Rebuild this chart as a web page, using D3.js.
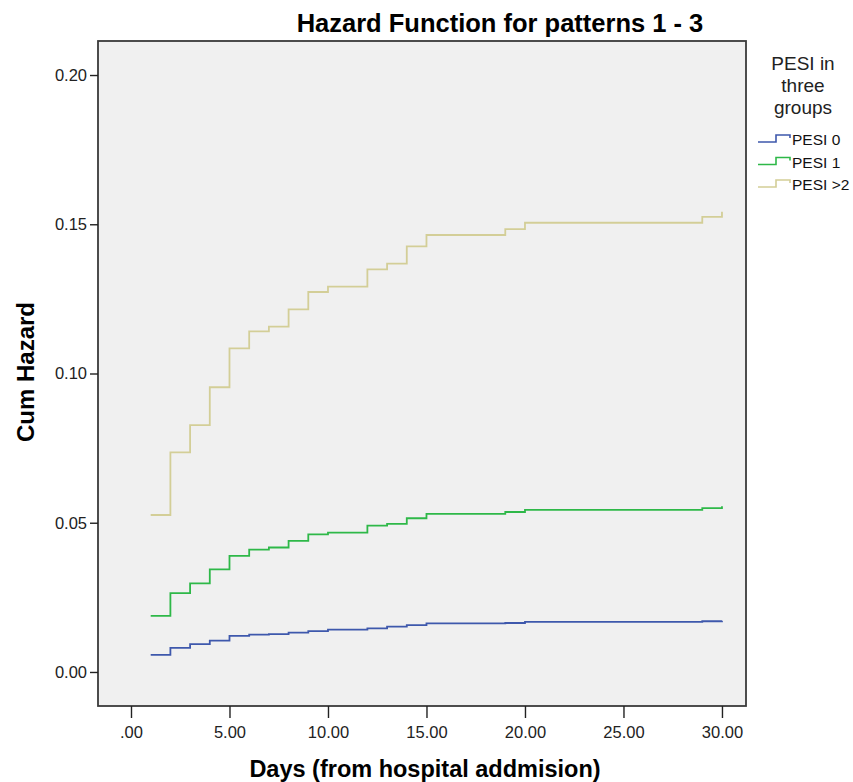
<!DOCTYPE html>
<html lang="en">
    <head>
        <meta charset="utf-8">
        <title>Hazard Function</title>
        <style>
            body { margin: 0; background: white; }
            svg { display: block; font-family: "Liberation Sans", Arial, sans-serif; }
            .tick text { font-size: 16.5px; fill: #222; }
        </style>
    </head>
    <body>
        <svg width="853" height="782"></svg>
        <script src="https://d3js.org/d3.v7.min.js"></script>
        <script>
            // event times (days) and cumulative hazard
            var days = [1, 2, 3, 4, 5, 6, 7, 8, 9, 10, 12, 13, 14, 15, 19, 20, 29, 30];
            var pesi0 = [0.0057, 0.0081, 0.0093, 0.0105, 0.0121, 0.0125, 0.0127, 0.0132, 0.0137, 0.0142, 0.0146, 0.0152, 0.0157, 0.0163, 0.0164, 0.0168, 0.0170, 0.0172];
            var pesi1 = [0.0188, 0.0264, 0.0297, 0.0344, 0.0389, 0.0410, 0.0417, 0.0439, 0.0461, 0.0467, 0.0490, 0.0496, 0.0515, 0.0530, 0.0536, 0.0543, 0.0549, 0.0555];
            var pesi2 = [0.0526, 0.0736, 0.0827, 0.0954, 0.1084, 0.1141, 0.1157, 0.1215, 0.1273, 0.1291, 0.1349, 0.1368, 0.1426, 0.1464, 0.1484, 0.1505, 0.1525, 0.1542];

            var seriesNames = ["PESI 0", "PESI 1", "PESI >2"];
            var seriesColors = ["#3e58ac", "#2eb848", "#d3ce97"];
            var xTicks = [0, 5, 10, 15, 20, 25, 30];
            var xTickLabels = [".00", "5.00", "10.00", "15.00", "20.00", "25.00", "30.00"];
            var yTicks = [0, 0.05, 0.10, 0.15, 0.20];
            var yTickLabels = ["0.00", "0.05", "0.10", "0.15", "0.20"];

            var svg = d3.select("svg");
            var frame = {left: 98, right: 746, top: 41, bottom: 706};

            var x = d3.scaleLinear().domain([-1.675, 31.22]).range([frame.left, frame.right]);
            var y = d3.scaleLinear().domain([-0.0114, 0.2114]).range([frame.bottom, frame.top]);

            svg.append("rect")
                .attr("x", frame.left)
                .attr("y", frame.top)
                .attr("width", frame.right - frame.left)
                .attr("height", frame.bottom - frame.top)
                .style("fill", "#f0f0f0")
                .style("stroke", "#3a3a3a")
                .style("stroke-width", 1.8);

            var xAxis = svg.append("g")
                .attr("transform", "translate(0," + frame.bottom + ")")
                .call(d3.axisBottom(x).tickValues(xTicks).tickSize(12).tickPadding(8)
                    .tickFormat(function(d, i) { return xTickLabels[i]; }));
            var yAxis = svg.append("g")
                .attr("transform", "translate(" + frame.left + ",0)")
                .call(d3.axisLeft(y).tickValues(yTicks).tickSize(8).tickPadding(3)
                    .tickFormat(function(d, i) { return yTickLabels[i]; }));
            svg.selectAll(".domain").remove();
            svg.selectAll(".tick line").style("stroke", "#222").style("stroke-width", 1.4);

            var line = d3.line()
                .x(function(d) { return x(d[0]); })
                .y(function(d) { return y(d[1]); })
                .curve(d3.curveStepAfter);

            [pesi0, pesi1, pesi2].forEach(function(vals, i) {
                svg.append("path")
                    .datum(days.map(function(d, j) { return [d, vals[j]]; }))
                    .attr("d", line)
                    .style("fill", "none")
                    .style("stroke", seriesColors[i])
                    .style("stroke-width", 1.8);
            });

            svg.append("text")
                .attr("x", 500).attr("y", 32)
                .attr("text-anchor", "middle")
                .style("font-size", "25.5px").style("font-weight", "bold")
                .text("Hazard Function for patterns 1 - 3");

            svg.append("text")
                .attr("x", 425).attr("y", 777)
                .attr("text-anchor", "middle")
                .style("font-size", "23.5px").style("font-weight", "bold")
                .text("Days (from hospital addmision)");

            svg.append("text")
                .attr("transform", "translate(34,372)rotate(-90)")
                .attr("text-anchor", "middle")
                .style("font-size", "24px").style("font-weight", "bold")
                .text("Cum Hazard");

            // legend
            var legend = svg.append("g");
            ["PESI in", "three", "groups"].forEach(function(t, i) {
                legend.append("text")
                    .attr("x", 803).attr("y", 70 + i * 22)
                    .attr("text-anchor", "middle")
                    .style("font-size", "19px")
                    .style("fill", "#222")
                    .text(t);
            });
            seriesNames.forEach(function(name, i) {
                var by = 145 + i * 22.5;
                legend.append("path")
                    .attr("d", "M758," + (by - 3) + "H776V" + (by - 10) + "H790V" + (by - 7))
                    .style("fill", "none")
                    .style("stroke", seriesColors[i])
                    .style("stroke-width", 1.6);
                legend.append("text")
                    .attr("x", 792).attr("y", by)
                    .style("font-size", "15.5px")
                    .style("fill", "#111")
                    .text(name);
            });
        </script>
    </body>
</html>
